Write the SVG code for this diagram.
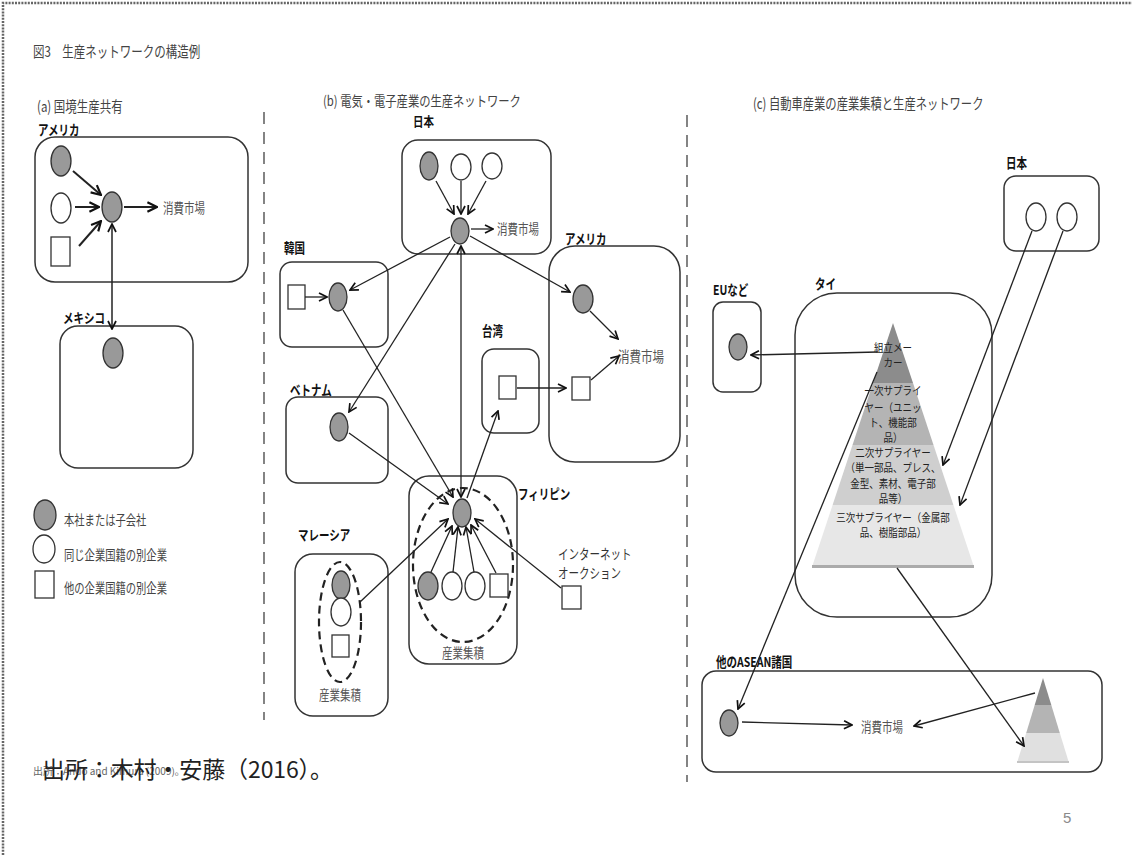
<svg xmlns="http://www.w3.org/2000/svg" width="1132" height="855" viewBox="0 0 1132 855">
  <style>
    .t{font-family:"Noto Sans CJK JP","Liberation Sans",sans-serif}
    .hd{font-size:11.3px;fill:#444}
    .lb{font-size:10.5px;font-weight:bold;fill:#111}
    .mk{font-size:10.5px;fill:#555}
    .lg{font-size:10.3px;fill:#444}
    .py{font-size:9.5px;fill:#222;text-anchor:middle}
    .box{fill:none;stroke:#333;stroke-width:1.5}
    .g{fill:#999;stroke:#333;stroke-width:1.3}
    .w{fill:#fff;stroke:#333;stroke-width:1.3}
    .dash{fill:none;stroke:#222;stroke-width:2.2;stroke-dasharray:8 5}
    .c{fill:none;stroke:#222;stroke-width:1.3;marker-end:url(#ah)}
    .cb{fill:none;stroke:#222;stroke-width:1.3;marker-start:url(#ah);marker-end:url(#ah)}
    .ca{fill:none;stroke:#222;stroke-width:2;marker-end:url(#ahl)}
    .cab{fill:none;stroke:#222;stroke-width:1.5;marker-start:url(#ah);marker-end:url(#ah)}
    .div{stroke:#777;stroke-width:1.8;stroke-dasharray:12 8}
  </style>
  <defs>
    <marker id="ah" viewBox="0 0 10 10" refX="9" refY="5" markerWidth="10" markerHeight="10" markerUnits="userSpaceOnUse" orient="auto-start-reverse">
      <path d="M1,1 L9,5 L1,9" fill="none" stroke="#111" stroke-width="1.7"/>
    </marker>
    <marker id="ahl" viewBox="0 0 10 10" refX="9" refY="5" markerWidth="12" markerHeight="12" markerUnits="userSpaceOnUse" orient="auto-start-reverse">
      <path d="M1,1 L9,5 L1,9" fill="none" stroke="#111" stroke-width="1.8"/>
    </marker>
  </defs>

  <rect width="1132" height="855" fill="#fff"/>
  <!-- page frame -->
  <path d="M3,855 V3 H1132" fill="none" stroke="#666" stroke-width="2.5" stroke-dasharray="2 1.2"/>

  <!-- panel dividers -->
  <line class="div" x1="264" y1="112" x2="264" y2="720"/>
  <line class="div" x1="687" y1="115" x2="687" y2="782"/>

  <!-- headings -->
  <g id="headings" class="t">
    <text class="hd" style="font-size:11.5px" transform="translate(33,57) scale(1,1.3)">図3　生産ネットワークの構造例</text>
    <text class="hd" style="font-size:11.5px" transform="translate(37,112) scale(1,1.3)">(a) 国境生産共有</text>
    <text class="hd" transform="translate(323,106) scale(1,1.25)">(b) 電気・電子産業の生産ネットワーク</text>
    <text class="hd" transform="translate(753,109) scale(1,1.3)">(c) 自動車産業の産業集積と生産ネットワーク</text>
  </g>

  <!-- ===== (a) cross-border production sharing ===== -->
  <g id="a-usa">
    <rect class="box" x="35" y="137" width="213" height="145" rx="20"/>
    <text class="t lb" transform="translate(38,135) scale(1,1.3)">アメリカ</text>
    <ellipse class="g" cx="61" cy="161" rx="10" ry="15"/>
    <ellipse class="w" cx="61" cy="208" rx="10" ry="15"/>
    <rect class="w" x="51" y="237" width="19" height="29"/>
    <ellipse class="g" cx="112" cy="207" rx="10" ry="15"/>
    <text class="t mk" transform="translate(163,213) scale(1,1.3)">消費市場</text>
  </g>
  <g id="a-mexico">
    <rect class="box" x="60" y="326" width="133" height="142" rx="18"/>
    <text class="t lb" transform="translate(63,323) scale(1,1.3)">メキシコ</text>
    <ellipse class="g" cx="113" cy="353" rx="10" ry="15"/>
  </g>
  <g id="legend">
    <ellipse class="g" cx="45" cy="515" rx="11" ry="15"/>
    <text class="t lg" transform="translate(64,525) scale(1,1.3)">本社または子会社</text>
    <ellipse class="w" cx="44" cy="549" rx="11" ry="14"/>
    <text class="t lg" transform="translate(64,560) scale(1,1.3)">同じ企業国籍の別企業</text>
    <rect class="w" x="35" y="571" width="19" height="27"/>
    <text class="t lg" transform="translate(64,593) scale(1,1.3)">他の企業国籍の別企業</text>
  </g>

  <!-- ===== (b) electronics production network ===== -->
  <g id="b-japan">
    <rect class="box" x="402" y="140" width="149" height="114" rx="16"/>
    <text class="t lb" transform="translate(413,126) scale(1,1.2)">日本</text>
    <ellipse class="g" cx="429" cy="166" rx="9" ry="14"/>
    <ellipse class="w" cx="461" cy="167" rx="10" ry="13"/>
    <ellipse class="w" cx="492" cy="166" rx="10" ry="13"/>
    <ellipse class="g" cx="460" cy="231" rx="9" ry="13"/>
    <text class="t mk" transform="translate(497,234) scale(1,1.3)">消費市場</text>
  </g>
  <g id="b-korea">
    <rect class="box" x="280" y="262" width="108" height="85" rx="12"/>
    <text class="t lb" transform="translate(284,253) scale(1,1.3)">韓国</text>
    <rect class="w" x="288" y="285" width="17" height="24"/>
    <ellipse class="g" cx="338" cy="297" rx="9" ry="14"/>
  </g>
  <g id="b-vietnam">
    <rect class="box" x="286" y="397" width="102" height="86" rx="12"/>
    <text class="t lb" transform="translate(290,395) scale(1,1.3)">ベトナム</text>
    <ellipse class="g" cx="339" cy="427" rx="9" ry="14"/>
  </g>
  <g id="b-taiwan">
    <rect class="box" x="482" y="349" width="57" height="84" rx="12"/>
    <text class="t lb" transform="translate(482,336) scale(1,1.3)">台湾</text>
    <rect class="w" x="499" y="376" width="17" height="23"/>
  </g>
  <g id="b-usa">
    <rect class="box" x="549" y="246" width="131" height="216" rx="26"/>
    <text class="t lb" transform="translate(565,244) scale(1,1.3)">アメリカ</text>
    <ellipse class="g" cx="583" cy="299" rx="10" ry="14"/>
    <rect class="w" x="572" y="377" width="18" height="23"/>
    <text class="t mk" style="font-size:11.5px" transform="translate(618,362) scale(1,1.3)">消費市場</text>
  </g>
  <g id="b-philippines">
    <rect class="box" x="409" y="476" width="108" height="188" rx="20"/>
    <text class="t lb" transform="translate(518,499) scale(1,1.3)">フィリピン</text>
    <ellipse class="dash" cx="463" cy="565" rx="50" ry="77"/>
    <ellipse class="g" cx="462" cy="513" rx="9" ry="14"/>
    <ellipse class="g" cx="428" cy="586" rx="10" ry="14"/>
    <ellipse class="w" cx="452" cy="586" rx="10" ry="14"/>
    <ellipse class="w" cx="475" cy="586" rx="10" ry="14"/>
    <rect class="w" x="490" y="574" width="18" height="23"/>
    <text class="t mk" text-anchor="middle" transform="translate(463,658) scale(1,1.3)">産業集積</text>
  </g>
  <g id="b-malaysia">
    <rect class="box" x="295" y="554" width="93" height="162" rx="18"/>
    <text class="t lb" transform="translate(298,540) scale(1,1.3)">マレーシア</text>
    <ellipse class="dash" cx="340" cy="622" rx="21" ry="60"/>
    <ellipse class="g" cx="341" cy="585" rx="9" ry="14"/>
    <ellipse class="w" cx="341" cy="612" rx="10" ry="14"/>
    <rect class="w" x="332" y="635" width="17" height="22"/>
    <text class="t mk" text-anchor="middle" transform="translate(340,700) scale(1,1.3)">産業集積</text>
  </g>
  <g id="b-auction">
    <text class="t" style="font-size:10.5px;fill:#333" transform="translate(558,559) scale(1,1.3)">インターネット</text>
    <text class="t" style="font-size:10.5px;fill:#333" transform="translate(558,578) scale(1,1.3)">オークション</text>
    <rect class="w" x="562" y="586" width="19" height="23"/>
  </g>

  <!-- ===== (c) automotive cluster and network ===== -->
  <g id="c-japan">
    <rect class="box" x="1004" y="176" width="95" height="75" rx="12"/>
    <text class="t lb" transform="translate(1006,168) scale(1,1.3)">日本</text>
    <ellipse class="w" cx="1036" cy="217" rx="10" ry="14"/>
    <ellipse class="w" cx="1067" cy="217" rx="10" ry="14"/>
  </g>
  <g id="c-eu">
    <rect class="box" x="713" y="302" width="48" height="90" rx="10"/>
    <text class="t lb" transform="translate(713,295) scale(1,1.3)">EUなど</text>
    <ellipse class="g" cx="738" cy="347" rx="9" ry="13"/>
  </g>
  <g id="c-thailand">
    <rect class="box" x="795" y="293" width="197" height="324" rx="42"/>
    <text class="t lb" transform="translate(815,289) scale(1,1.3)">タイ</text>
    <polygon points="893,323 913,383 873,383" fill="#8c8c8c"/>
    <polygon points="873,383 913,383 933.5,445 852.5,445" fill="#b4b4b4"/>
    <polygon points="852.5,445 933.5,445 953.4,505 832.6,505" fill="#cfcfcf"/>
    <polygon points="832.6,505 953.4,505 974,567 812,567" fill="#e7e7e7"/>
    <rect x="812" y="565" width="162" height="3" fill="#ababab"/>
    <g class="t py">
      <text transform="translate(893,352) scale(1,1.2)">組立メー</text>
      <text transform="translate(893,367) scale(1,1.2)">カー</text>
      <text transform="translate(893,395) scale(1,1.2)">一次サプライ</text>
      <text transform="translate(893,412) scale(1,1.2)">ヤー（ユニッ</text>
      <text transform="translate(893,427) scale(1,1.2)">ト、機能部</text>
      <text transform="translate(893,442) scale(1,1.2)">品）</text>
      <text transform="translate(893,457) scale(1,1.2)">二次サプライヤー</text>
      <text transform="translate(893,472) scale(1,1.2)">（単一部品、プレス、</text>
      <text transform="translate(893,488) scale(1,1.2)">金型、素材、電子部</text>
      <text transform="translate(893,503) scale(1,1.2)">品等）</text>
      <text transform="translate(893,522) scale(1,1.2)">三次サプライヤー（金属部</text>
      <text transform="translate(893,537) scale(1,1.2)">品、樹脂部品）</text>
    </g>
  </g>
  <g id="c-asean">
    <rect class="box" x="702" y="671" width="400" height="101" rx="14"/>
    <text class="t lb" transform="translate(716,667) scale(1,1.3)">他のASEAN諸国</text>
    <ellipse class="g" cx="729" cy="723" rx="9" ry="13"/>
    <text class="t mk" transform="translate(861,732) scale(1,1.3)">消費市場</text>
    <polygon points="1043,678 1051.3,705 1034.7,705" fill="#8c8c8c"/>
    <polygon points="1034.7,705 1051.3,705 1059.8,733 1026.2,733" fill="#b4b4b4"/>
    <polygon points="1026.2,733 1059.8,733 1069,763 1017,763" fill="#e0e0e0"/>
    <rect x="1017" y="761" width="52" height="2" fill="#c4c4c4"/>
  </g>

  <!-- connectors -->
  <g id="connectors">
    <!-- (a) -->
    <line class="ca" x1="73" y1="171" x2="101" y2="195"/>
    <line class="ca" x1="75" y1="207" x2="99" y2="207"/>
    <line class="ca" x1="79" y1="246" x2="101" y2="221"/>
    <line class="ca" x1="124" y1="207" x2="157" y2="207"/>
    <line class="cab" x1="112" y1="224" x2="112" y2="329"/>
    <!-- (b) -->
    <line class="c" x1="436" y1="181" x2="454" y2="214"/>
    <line class="c" x1="461" y1="181" x2="461" y2="214"/>
    <line class="c" x1="486" y1="181" x2="468" y2="214"/>
    <line class="c" x1="471" y1="229" x2="493" y2="229"/>
    <line class="c" x1="450" y1="237" x2="350" y2="290"/>
    <line class="c" x1="455" y1="244" x2="349" y2="412"/>
    <line class="c" x1="470" y1="236" x2="570" y2="292"/>
    <line class="c" x1="305" y1="297" x2="327" y2="297"/>
    <line class="c" x1="343" y1="310" x2="453" y2="497"/>
    <line class="c" x1="349" y1="433" x2="448" y2="504"/>
    <line class="cb" x1="461" y1="497" x2="461" y2="246"/>
    <line class="c" x1="467" y1="498" x2="498" y2="411"/>
    <line class="c" x1="517" y1="388" x2="566" y2="388"/>
    <line class="c" x1="590" y1="311" x2="618" y2="339"/>
    <line class="c" x1="591" y1="380" x2="619" y2="356"/>
    <line class="c" x1="360" y1="602" x2="448" y2="519"/>
    <line class="c" x1="431" y1="572" x2="452" y2="526"/>
    <line class="c" x1="453" y1="572" x2="458" y2="527"/>
    <line class="c" x1="474" y1="572" x2="466" y2="527"/>
    <line class="c" x1="496" y1="573" x2="471" y2="525"/>
    <line class="c" x1="561" y1="588" x2="475" y2="519"/>
    <!-- (c) -->
    <line class="c" x1="1032" y1="231" x2="943" y2="465"/>
    <line class="c" x1="1063" y1="231" x2="960" y2="505"/>
    <line class="c" x1="878" y1="352" x2="751" y2="355"/>
    <line class="c" x1="877" y1="372" x2="738" y2="709"/>
    <line class="c" x1="897" y1="568" x2="1024" y2="746"/>
    <line class="c" x1="742" y1="722" x2="852" y2="725"/>
    <line class="c" x1="1035" y1="693" x2="914" y2="726"/>
  </g>

  <!-- source notes and page number -->
  <g id="footer">
    <text class="t" style="font-size:10px;fill:#666" transform="translate(33,775)">出所：Ando and Kimura (2009)。</text>
    <text class="t" style="font-size:23px;fill:#222" x="42" y="778" textLength="291" lengthAdjust="spacing">出所：木村・安藤（2016）。</text>
    <text style="font-family:'Liberation Sans',sans-serif;font-size:15px;fill:#8a8a8a" x="1063" y="823">5</text>
  </g>
</svg>
